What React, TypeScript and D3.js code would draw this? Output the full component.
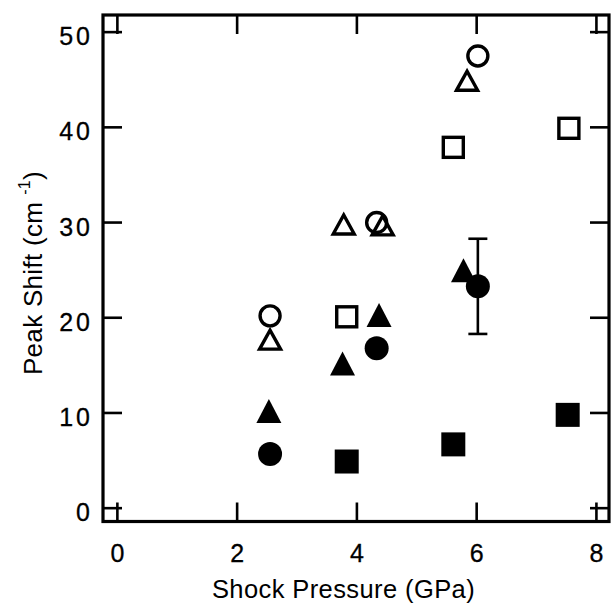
import React from 'react';
import * as d3 from 'd3';

// values (GPa, cm^-1)
const openCircleX = [2.55, 4.33, 6.02];
const openCircleY = [20.2, 30.0, 47.5];
const openTriX = [2.55, 3.78, 4.43, 5.84];
const openTriY = [17.7, 29.8, 29.7, 44.9];
const openSquareX = [3.83, 5.61, 7.54];
const openSquareY = [20.1, 37.9, 39.9];
const fillTriX = [2.53, 3.76, 4.37, 5.78];
const fillTriY = [10.2, 15.2, 20.3, 25.0];
const fillCircleX = [2.55, 4.33, 6.02];
const fillCircleY = [5.7, 16.8, 23.3];
const fillSquareX = [3.83, 5.61, 7.52];
const fillSquareY = [4.9, 6.7, 9.8];
const errX = [6.02];
const errLow = [18.3];
const errHigh = [28.3];

const xTicks = [0, 2, 4, 6, 8];
const yTicks = [0, 10, 20, 30, 40, 50];

const W = 613, H = 606;
const L = 103, R = 609, T = 15, B = 521.5;

export default function App() {
  const x = d3.scaleLinear().domain([-0.24, 8.21]).range([L, R]);
  const y = d3.scaleLinear().domain([-1.4, 51.8]).range([B, T]);
  const tickLen = 19;
  const font = '"Liberation Sans", Arial, Helvetica, sans-serif';

  const tri = (cx: number, cy: number, w: number, h: number) =>
    d3.line()([[cx - w / 2, cy + h / 2], [cx, cy - h / 2], [cx + w / 2, cy + h / 2]]) + 'Z';

  return (
    <svg width={W} height={H} style={{ position: 'absolute', left: 0, top: 0, background: '#fff' }}
      fontFamily={font}>
      <rect x={L} y={T} width={R - L} height={B - T} fill="none" stroke="#000" strokeWidth={3.2} />
      <g stroke="#000" strokeWidth={2.6}>
        {xTicks.map(t => (
          <g key={'x' + t}>
            <line x1={x(t)} x2={x(t)} y1={B} y2={B - tickLen} />
            <line x1={x(t)} x2={x(t)} y1={T} y2={T + tickLen} />
          </g>
        ))}
        {yTicks.map(t => (
          <g key={'y' + t}>
            <line x1={L} x2={L + tickLen} y1={y(t)} y2={y(t)} />
            <line x1={R} x2={R - tickLen} y1={y(t)} y2={y(t)} />
          </g>
        ))}
      </g>
      <g fontSize={25} fill="#000" stroke="#000" strokeWidth={0.3}>
        {xTicks.map(t => (
          <text key={'xl' + t} x={x(t)} y={562} textAnchor="middle">{t}</text>
        ))}
        {yTicks.map(t => (
          <text key={'yl' + t} x={93} y={y(t) + 13} textAnchor="end" letterSpacing={3}>{t}</text>
        ))}
      </g>
      <text x={(210 + 477) / 2} y={598} textAnchor="middle" fontSize={25.5} letterSpacing={0.4}>
        Shock Pressure (GPa)
      </text>
      <text transform="translate(42,273) rotate(-90)" textAnchor="middle" fontSize={26} letterSpacing={0.3}>
        Peak Shift (cm<tspan fontSize={16} dy={-12} dx={7}>-1</tspan><tspan dy={12}>)</tspan>
      </text>

      {/* error bar */}
      <g stroke="#000" strokeWidth={2.6}>
        {errX.map((v, i) => (
          <g key={'e' + i}>
            <line x1={x(v)} x2={x(v)} y1={y(errLow[i])} y2={y(errHigh[i])} />
            <line x1={x(v) - 9.5} x2={x(v) + 9.5} y1={y(errLow[i])} y2={y(errLow[i])} />
            <line x1={x(v) - 9.5} x2={x(v) + 9.5} y1={y(errHigh[i])} y2={y(errHigh[i])} />
          </g>
        ))}
      </g>

      {fillSquareX.map((v, i) => (
        <rect key={'fs' + i} x={x(v) - 12} y={y(fillSquareY[i]) - 12} width={24} height={24} fill="#000" />
      ))}
      {fillCircleX.map((v, i) => (
        <circle key={'fc' + i} cx={x(v)} cy={y(fillCircleY[i])} r={12} fill="#000" />
      ))}
      {fillTriX.map((v, i) => (
        <path key={'ft' + i} d={tri(x(v), y(fillTriY[i]), 25, 24)} fill="#000" />
      ))}
      <g fill="none" stroke="#000" strokeWidth={3.4}>
        {openSquareX.map((v, i) => (
          <rect key={'os' + i} x={x(v) - 10} y={y(openSquareY[i]) - 10} width={20} height={20} />
        ))}
        {openCircleX.map((v, i) => (
          <circle key={'oc' + i} cx={x(v)} cy={y(openCircleY[i])} r={10} />
        ))}
        {openTriX.map((v, i) => (
          <path key={'ot' + i} d={tri(x(v), y(openTriY[i]), 21, 19)} strokeLinejoin="miter" />
        ))}
      </g>
    </svg>
  );
}
